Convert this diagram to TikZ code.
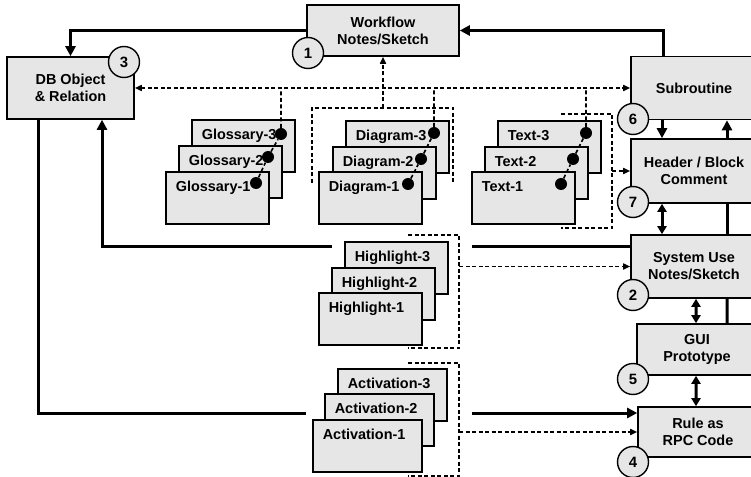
\documentclass[tikz,border=0pt]{standalone}
\usepackage{fontspec}
\setmainfont{Liberation Sans}
\usetikzlibrary{arrows.meta,positioning,calc}
\definecolor{boxgray}{HTML}{E6E6E6}

\begin{document}
\begin{tikzpicture}[x=1bp, y=-1bp,
    block/.style={draw=black, line width=1.6bp, fill=boxgray, align=center, inner sep=0pt, font=\fontsize{14.5}{17}\selectfont\bfseries},
    sheet/.style={draw=black, line width=1.6bp, fill=boxgray, anchor=north west, inner xsep=10bp, inner ysep=0pt, text width=83bp, align=left, text height=20bp, text depth=32bp, font=\fontsize{14.5}{17}\selectfont\bfseries},
    num/.style={circle, draw=black, line width=1.4bp, fill=boxgray, minimum size=31bp, inner sep=0pt, font=\fontsize{15}{17}\selectfont\bfseries},
    blob/.style={circle, fill=black, minimum size=12bp, inner sep=0pt},
    flow/.style={line width=3bp, -{Triangle[length=10bp, width=10bp]}},
    plainflow/.style={line width=3bp},
    flowboth/.style={line width=3bp, {Triangle[length=8bp, width=9bp]}-{Triangle[length=8bp, width=9bp]}},
    dashlink/.style={line width=1.6bp, dash pattern=on 4bp off 2.5bp, -{Triangle[length=7bp, width=6bp]}},
    dashboth/.style={line width=1.6bp, dash pattern=on 4bp off 2.5bp, {Triangle[length=7bp, width=6bp]}-{Triangle[length=7bp, width=6bp]}},
    bracket/.style={line width=1.6bp, dash pattern=on 4bp off 2.5bp}
]
\useasboundingbox (0,0) rectangle (751,477);
\clip (0,0) rectangle (751,477);

\node[block, minimum width=152bp, minimum height=51bp] (wf) at (383,30.5) {Workflow\\Notes/Sketch};
\node[block, minimum width=127bp, minimum height=62bp] (db) at (70.5,88) {DB Object\\\& Relation};
\node[block, minimum width=126bp, minimum height=63bp] (sub) at (694,88) {Subroutine};
\node[block, minimum width=126bp, minimum height=64bp] (hdr) at (694,171) {Header / Block\\Comment};
\node[block, minimum width=126bp, minimum height=63bp] (sys) at (694,266.5) {System Use\\Notes/Sketch};
\node[block, minimum width=120bp, minimum height=51bp] (gui) at (697,349.5) {GUI\\Prototype};
\node[block, minimum width=120bp, minimum height=50bp] (rule) at (698,432) {Rule as\\RPC Code};

\node[sheet] (g3) at (191,119) {Glossary-3};
\node[sheet] (g2) at (178,145) {Glossary-2};
\node[sheet] (g1) at (165,171) {Glossary-1};

\node[sheet] (d3) at (345,120) {Diagram-3};
\node[sheet] (d2) at (332,146) {Diagram-2};
\node[sheet] (d1) at (318,171) {Diagram-1};

\node[sheet] (t3) at (497,120) {Text-3};
\node[sheet] (t2) at (484,146) {Text-2};
\node[sheet] (t1) at (471,171) {Text-1};

\node[sheet] (h3) at (344,241) {Highlight-3};
\node[sheet] (h2) at (331,267) {Highlight-2};
\node[sheet] (h1) at (318,292) {Highlight-1};

\node[sheet, text width=89bp] (a3) at (337,368) {Activation-3};
\node[sheet, text width=89bp] (a2) at (324,393) {Activation-2};
\node[sheet, text width=89bp] (a1) at (312,419) {Activation-1};

\node[blob] (gd3) at (281,134) {};
\node[blob] (gd2) at (268,157) {};
\node[blob] (gd1) at (256,183) {};
\node[blob] (dd3) at (434,133) {};
\node[blob] (dd2) at (421,159) {};
\node[blob] (dd1) at (408,184) {};
\node[blob] (td3) at (586,133) {};
\node[blob] (td2) at (573,159) {};
\node[blob] (td1) at (561,184) {};

\draw[bracket] (312,183) -- (312,108) -- (453,108) -- (453,183);
\draw[bracket] (561,114) -- (612,114) -- (612,228) -- (561,228);
\draw[bracket] (408,235) -- (459,235) -- (459,348) -- (408,348);
\draw[bracket] (408,363) -- (459,363) -- (459,476) -- (408,476);

\coordinate (dgtop) at (383,108);
\coordinate (txbr) at (612,171);
\coordinate (hlbr) at (459,266.5);
\coordinate (acbr) at (459,432);

\coordinate (hlL) at (332,247);
\coordinate (hlR) at (472,247);
\coordinate (acL) at (306,413);
\coordinate (acR) at (472,413);

\draw[dashboth] (db.east) -- (sub.west);
\draw[bracket] (gd1) -- (gd2) -- (gd3) -- (gd3 |- db.east);
\draw[bracket] (dd1) -- (dd2) -- (dd3) -- (dd3 |- db.east);
\draw[bracket] (td1) -- (td2) -- (td3) -- (td3 |- db.east);
\draw[dashlink] (dgtop) -- (wf.south);
\draw[dashlink] (txbr) -- (hdr.west);
\draw[dashlink] (hlbr) -- (sys.west);
\draw[dashlink] (acbr) -- (rule.west);

\draw[flow] ([xshift=-31bp]sub.north) |- (wf.east);
\draw[flow] (wf.west) -| (db.north);
\draw[plainflow] (hlR -| sys.west) -- (hlR);
\draw[flow] (hlL) -| ([xshift=31.5bp]db.south);
\draw[plainflow] ([xshift=-32.5bp]db.south) |- (acL);
\draw[flow] (acR) -- (acR -| rule.west);

\draw[flow] ([xshift=-32bp]sub.south) -- ([xshift=-32bp]hdr.north);
\draw[flow] ([xshift=33bp]hdr.north) -- ([xshift=33bp]sub.south);
\draw[flowboth] ([xshift=-32bp]hdr.south) -- ([xshift=-32bp]sys.north);
\draw[plainflow] ([xshift=33bp]hdr.south) -- ([xshift=33bp]sys.north);
\draw[flowboth] ([xshift=2bp]sys.south) -- ([xshift=-1bp]gui.north);
\draw[plainflow] ([xshift=33bp]sys.south) -- ([xshift=30bp]gui.north);
\draw[flowboth] ([xshift=-1bp]gui.south) -- ([xshift=-2bp]rule.north);

\node[num] (n1) at (308,53) {1};
\node[num] (n3) at (124,62) {3};
\node[num] (n6) at (633,119) {6};
\node[num] (n7) at (633,202) {7};
\node[num] (n2) at (633,295) {2};
\node[num] (n5) at (633,379) {5};
\node[num] (n4) at (633,462) {4};

\end{tikzpicture}
\end{document}
